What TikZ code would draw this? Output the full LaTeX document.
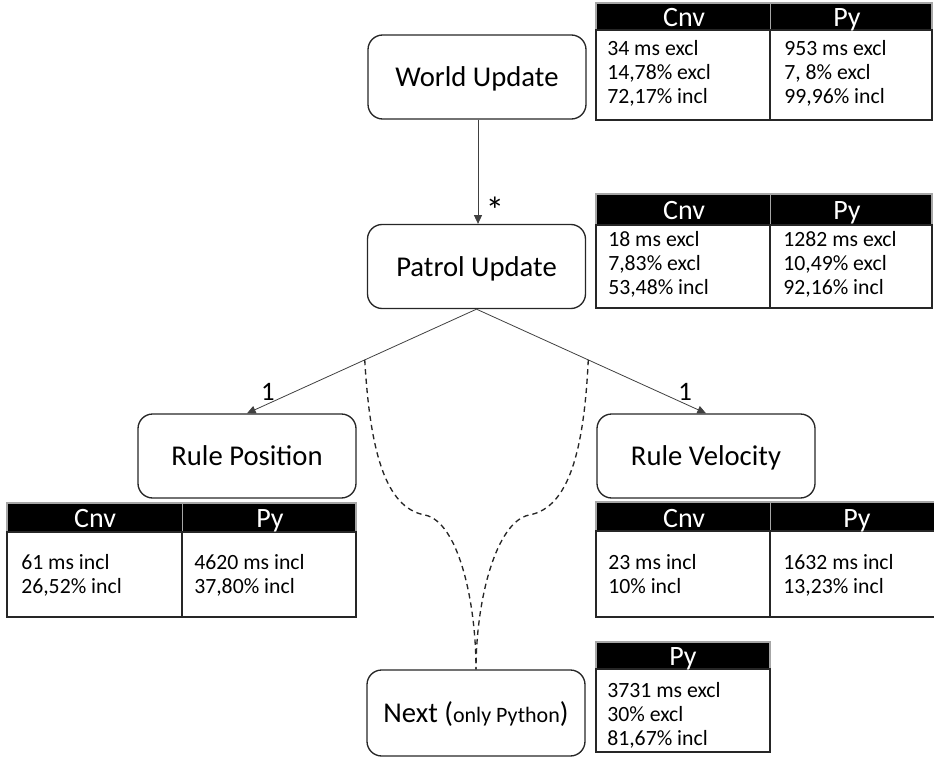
\documentclass[tikz,border=0pt]{standalone}
\usepackage{fontspec}
\setmainfont{Carlito}
\usetikzlibrary{arrows.meta}
\begin{document}
\begin{tikzpicture}[x=0.75pt,y=-0.75pt,
  box/.style={draw=black!85,line width=1pt,rounded corners=11pt,minimum width=163.5pt,minimum height=63pt,inner sep=0pt,text height=16.5pt,text depth=2pt,font=\fontsize{21.5}{25}\selectfont},
  conn/.style={draw=black!75,line width=0.6pt,-{Triangle[length=6.5pt,width=6pt]}},
  curve/.style={draw=black!85,line width=1pt,dash pattern=on 4pt off 3pt},
  lbl/.style={inner sep=0pt,font=\fontsize{20}{24}\selectfont},
  hdr/.style={inner sep=0pt,anchor=base,text=white,font=\fontsize{21}{24}\selectfont},
  body/.style={inner sep=0pt,anchor=base west,font=\fontsize{16.3}{18}\selectfont},
  hdrfill/.style={fill=black,draw=black!35,line width=0.8pt},
  tbl/.style={draw=black!85,line width=1pt},
  coldiv/.style={draw=black!85,line width=1pt}
]
\useasboundingbox (0,0) rectangle (934,756);
\clip (0,0) rectangle (934,756);

% nodes
\node[box] (world) at (477,77) {World Update};
\node[box] (patrol) at (476.5,266.5) {Patrol Update};
\node[box] (rpos) at (247,456) {Rule Position};
\node[box] (rvel) at (706,456) {Rule Velocity};
\node[box,minimum height=64.5pt] (next) at (476,713) {Next (\fontsize{16.5}{18}\selectfont only Python\fontsize{21.5}{25}\selectfont)};

% connectors
\draw[conn] (world.south -| 478,0) -- (patrol.north -| 478,0);
\draw[conn] (patrol.south) -- coordinate[pos=0.487] (dl) (rpos.north);
\draw[conn] (patrol.south) -- coordinate[pos=0.487] (dr) (rvel.north);
\node[lbl,font=\fontsize{28}{30}\selectfont] (star) at (495,210) {*};
\node[lbl] (onel) at (268,392) {1};
\node[lbl] (oner) at (685,392) {1};

% dashed curves
\draw[curve] (dl) .. controls (370,450) and (385,508) .. (425,515)
  .. controls (458,522) and (476,600) .. (next.north);
\draw[curve] (dr) .. controls (584,450) and (569,508) .. (529,515)
  .. controls (496,522) and (476,600) .. (next.north);

% World table
\path[hdrfill] (596,3) rectangle (932,30);
\draw[draw=black!35] (770,3) -- (770,30);
\draw[tbl] (596,30) rectangle (932,120);
\draw[coldiv] (770,30) -- (770,120);
\node[hdr] (wc) at (684,27) {Cnv};
\node[hdr] (wp) at (847,27) {Py};
\node[body] (wa1) at (607,56) {34 ms excl};
\node[body] (wa2) at (607,80) {14,78\% excl};
\node[body] (wa3) at (607,104) {72,17\% incl};
\node[body] (wb1) at (784,56) {953 ms excl};
\node[body] (wb2) at (784,80) {7, 8\% excl};
\node[body] (wb3) at (784,104) {99,96\% incl};

% Patrol table
\path[hdrfill] (596,194) rectangle (932,225);
\draw[draw=black!35] (770,194) -- (770,225);
\draw[tbl] (596,225) rectangle (932,308);
\draw[coldiv] (770,225) -- (770,308);
\node[hdr] (pc) at (684,219) {Cnv};
\node[hdr] (pp) at (847,219) {Py};
\node[body] (pa1) at (608,246) {18 ms excl};
\node[body] (pa2) at (608,270) {7,83\% excl};
\node[body] (pa3) at (608,294) {53,48\% incl};
\node[body] (pb1) at (783,246) {1282 ms excl};
\node[body] (pb2) at (783,270) {10,49\% excl};
\node[body] (pb3) at (783,294) {92,16\% incl};

% Rule Position table
\path[hdrfill] (7,503) rectangle (356,532);
\draw[draw=black!35] (182,503) -- (182,532);
\draw[tbl] (7,532) rectangle (356,617);
\draw[coldiv] (182,532) -- (182,617);
\node[hdr] (rpc) at (95,527) {Cnv};
\node[hdr] (rpp) at (270,527) {Py};
\node[body] (rpa1) at (21,569) {61 ms incl};
\node[body] (rpa2) at (21,593) {26,52\% incl};
\node[body] (rpb1) at (194,569) {4620 ms incl};
\node[body] (rpb2) at (194,593) {37,80\% incl};

% Rule Velocity table
\path[hdrfill] (596,502) rectangle (945,531);
\draw[draw=black!35] (770,502) -- (770,531);
\draw[tbl] (596,531) rectangle (945,617);
\draw[coldiv] (770,531) -- (770,617);
\node[hdr] (rvc) at (684,527) {Cnv};
\node[hdr] (rvp) at (857,527) {Py};
\node[body] (rva1) at (608,569) {23 ms incl};
\node[body] (rva2) at (608,593) {10\% incl};
\node[body] (rvb1) at (783,569) {1632 ms incl};
\node[body] (rvb2) at (783,593) {13,23\% incl};

% Next table
\path[hdrfill] (596,642) rectangle (770,669);
\draw[tbl] (596,669) rectangle (770,752);
\node[hdr] (np) at (683,665) {Py};
\node[body] (na1) at (607,697) {3731 ms excl};
\node[body] (na2) at (607,721) {30\% excl};
\node[body] (na3) at (607,745) {81,67\% incl};
\end{tikzpicture}
\end{document}
